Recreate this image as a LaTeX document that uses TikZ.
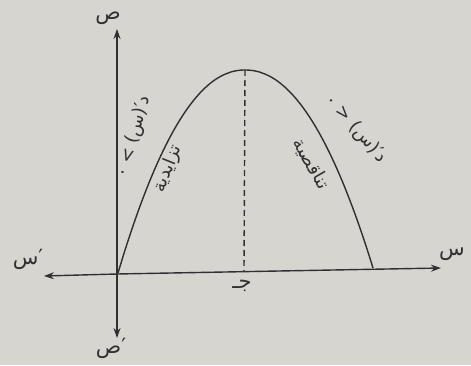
\documentclass[tikz,border=0pt]{standalone}
\usepackage{fontspec}
\usetikzlibrary{arrows.meta}
\newfontfamily\arabicfont[Script=Arabic]{DejaVu Sans}
\TeXXeTstate=1
\definecolor{bg}{RGB}{214,213,208}
\definecolor{ink}{RGB}{48,48,48}
\begin{document}
\begin{tikzpicture}[x=1pt,y=1pt,
  axis/.style={draw=ink, line width=1.4pt, -{Stealth[length=10pt,width=7pt]}},
  curve/.style={draw=ink, line width=1.4pt},
  lbl/.style={text=ink, font=\arabicfont\fontsize{21}{23}\selectfont, inner sep=1pt},
  txt/.style={text=ink, font=\arabicfont\fontsize{18}{20}\selectfont, inner sep=1pt}]
\fill[bg] (0,0) rectangle (471,365);
\useasboundingbox (0,0) rectangle (471,365);
\coordinate (O) at (117,91);
\coordinate (ytop) at (117,336);
\coordinate (ybot) at (117,27);
\coordinate (xl) at (44,89);
\coordinate (xr) at (441,97);
\coordinate (V) at (245,295);
\coordinate (F) at (244,94);
\draw[axis] (O) -- (ytop);
\draw[axis] (O) -- (ybot);
\draw[axis] (O) -- (xl);
\draw[axis] (O) -- (xr);
\draw[curve] plot[domain=118:245, samples=70, smooth] (\x, {295-203*((abs(\x-245)+0.001)/127)^2.1})
  -- plot[domain=245:373, samples=70, smooth] (\x, {295-198*((abs(\x-245)+0.001)/128)^2.1});
\draw[ink, line width=1.4pt, dash pattern=on 6pt off 4pt] (V) -- (F);
\node[lbl] (ly) at (108,347) {ص};
\node[lbl] (lyb) at (111,17) {′ص};
\node[lbl] (lx) at (452,111) {س};
\node[lbl] (lxb) at (28,106) {′س};
\node[lbl] (lc) at (242,79) {\beginR جـ\endR};
\node[txt, rotate=74] (t1) at (134,228) {\beginR د′(س) > ٠\endR};
\node[txt, rotate=68] (t2) at (168,196) {\beginR تزايدية\endR};
\node[txt, rotate=-49] (t3) at (356,236) {\beginR د′(س) < ٠\endR};
\node[txt, rotate=-60] (t4) at (311,201) {\beginR تناقصية\endR};
\end{tikzpicture}
\end{document}
